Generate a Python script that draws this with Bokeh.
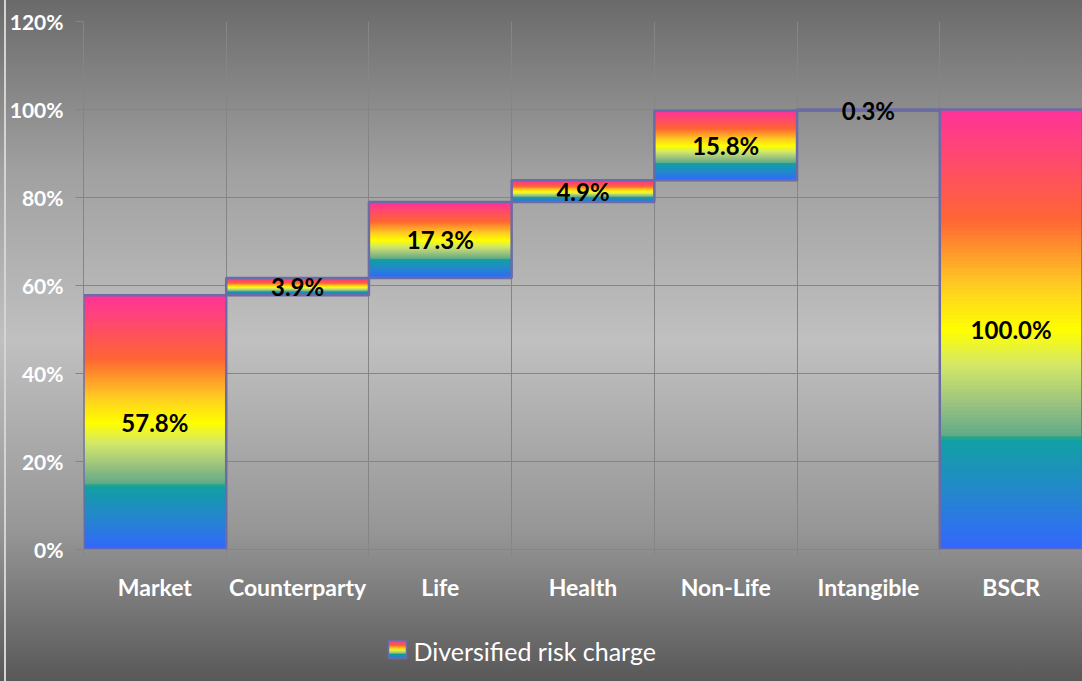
import numpy as np
from bokeh.plotting import figure
from bokeh.layouts import column
from bokeh.models import ColumnDataSource, FixedTicker, PrintfTickFormatter, Range1d
from bokeh.core.properties import value
from bokeh.embed import file_html
from bokeh.resources import INLINE

# ---------------- data ----------------
categories = ["Market", "Counterparty", "Life", "Health", "Non-Life", "Intangible", "BSCR"]
values = [57.8, 3.9, 17.3, 4.9, 15.8, 0.3, 100.0]
is_total = [False, False, False, False, False, False, True]
y_ticks = [0, 20, 40, 60, 80, 100, 120]
legend_label = "Diversified risk charge"

# rainbow gradient stops (fraction of bar height -> colour)
stop_pos = [0.0, 0.12, 0.249, 0.25, 0.262, 0.33, 0.42, 0.5, 0.6, 0.75, 0.87, 1.0]
stop_col = ["#3366ff", "#2585d0", "#12a0a4", "#00a08c", "#62ab88", "#98c280",
            "#d4e868", "#ffff00", "#ffcc22", "#ff6633", "#ff4d66", "#ff3399"]


def hex2rgb(h):
    h = h.lstrip("#")
    return np.array([int(h[i:i + 2], 16) for i in (0, 2, 4)], dtype=float)


stop_rgb = np.array([hex2rgb(c) for c in stop_col])


def grad(f):
    r = np.interp(f, stop_pos, stop_rgb[:, 0])
    g = np.interp(f, stop_pos, stop_rgb[:, 1])
    b = np.interp(f, stop_pos, stop_rgb[:, 2])
    return "#%02x%02x%02x" % (int(round(r)), int(round(g)), int(round(b)))


# waterfall bottoms
bottoms = []
run = 0.0
for v, t in zip(values, is_total):
    if t:
        bottoms.append(0.0)
    else:
        bottoms.append(run)
        run += v

centers = [i + 0.5 for i in range(len(categories))]

# gradient slices for each bar
N = 120
sx, sb, st, sc = [], [], [], []
for cx, v, b in zip(centers, values, bottoms):
    for k in range(N):
        f0, f1 = k / N, (k + 1) / N
        sx.append(cx)
        sb.append(b + v * f0)
        st.append(b + v * f1)
        sc.append(grad((f0 + f1) / 2))
slices = ColumnDataSource(dict(x=sx, bottom=sb, top=st, color=sc))

bars = ColumnDataSource(dict(
    x=centers,
    bottom=bottoms,
    top=[b + v for b, v in zip(bottoms, values)],
    mid=[b + v / 2 for b, v in zip(bottoms, values)],
    label=["%.1f%%" % v for v in values],
))

W = 1082
H_MAIN = 620
H_LEG = 61

# ---------------- main figure ----------------
p = figure(width=W, height=H_MAIN, output_backend="svg", toolbar_location=None,
           x_range=Range1d(0, len(categories)), y_range=Range1d(0, 120),
           min_border_left=83, min_border_right=0, min_border_top=21,
           min_border_bottom=H_MAIN - 549,
           background_fill_color=None, border_fill_color=None, outline_line_color=None)

GRID = "#858585"
p.ygrid.ticker = FixedTicker(ticks=y_ticks)
p.ygrid.grid_line_color = GRID
p.xgrid.ticker = FixedTicker(ticks=list(range(len(categories) + 1)))
p.xgrid.grid_line_color = GRID

# y axis
p.yaxis.ticker = FixedTicker(ticks=y_ticks)
p.yaxis.formatter = PrintfTickFormatter(format="%d%%")
p.yaxis.axis_line_color = GRID
p.yaxis.major_tick_line_color = GRID
p.yaxis.major_tick_out = 8
p.yaxis.major_tick_in = 0
p.yaxis.minor_tick_line_color = None
p.yaxis.major_label_standoff = 12
p.yaxis.major_label_text_font = "Lato"
p.yaxis.major_label_text_font_style = "bold"
p.yaxis.major_label_text_font_size = "21px"
p.yaxis.major_label_text_color = "white"

# x axis
p.xaxis.ticker = FixedTicker(ticks=centers, minor_ticks=list(range(len(categories) + 1)))
p.xaxis.major_label_overrides = {c: n for c, n in zip(centers, categories)}
p.xaxis.axis_line_color = GRID
p.xaxis.major_tick_line_color = None
p.xaxis.major_tick_out = 0
p.xaxis.major_tick_in = 0
p.xaxis.minor_tick_line_color = GRID
p.xaxis.minor_tick_out = 6
p.xaxis.minor_tick_in = 0
p.xaxis.major_label_standoff = 17
p.xaxis.major_label_text_font = "Lato"
p.xaxis.major_label_text_font_style = "bold"
p.xaxis.major_label_text_font_size = "23px"
p.xaxis.major_label_text_color = "white"

# gradient bars
p.vbar(x="x", width=1.0, bottom="bottom", top="top", source=slices,
       fill_color="color", line_color="color", line_width=1)
# bar outlines
p.vbar(x="x", width=1.0, bottom="bottom", top="top", source=bars,
       fill_color=None, line_color="#6b6ba6", line_width=2.5)
# data labels
p.text(x="x", y="mid", text="label", source=bars,
       text_align="center", text_baseline="middle",
       text_font=value("Lato"), text_font_style="bold",
       text_font_size=value("24px"), text_color="black")

# ---------------- legend strip (pixel coordinates) ----------------
leg = figure(width=W, height=H_LEG, output_backend="svg", toolbar_location=None,
             x_range=Range1d(83, W), y_range=Range1d(H_LEG, 0),
             x_axis_location=None, y_axis_location=None,
             min_border_left=83, min_border_right=0, min_border_top=0, min_border_bottom=0,
             background_fill_color=None, border_fill_color=None, outline_line_color=None)
leg.xgrid.visible = False
leg.ygrid.visible = False

sw_left, sw_right, sw_top, sw_bottom = 388, 406, 20, 38
n_sw = 18
swl, swr, swt, swb, swc = [], [], [], [], []
for k in range(n_sw):
    f0, f1 = k / n_sw, (k + 1) / n_sw
    swl.append(sw_left)
    swr.append(sw_right)
    swb.append(sw_bottom + (sw_top - sw_bottom) * f0)
    swt.append(sw_bottom + (sw_top - sw_bottom) * f1)
    swc.append(grad((f0 + f1) / 2))
leg.quad(left=swl, right=swr, top=swt, bottom=swb, fill_color=swc, line_color=swc, line_width=0.5)
leg.quad(left=[sw_left], right=[sw_right], top=[sw_top], bottom=[sw_bottom],
         fill_color=None, line_color="#6b6ba6", line_width=1.5)
leg.text(x=[413], y=[30], text=[legend_label], text_align="left", text_baseline="middle",
         text_font=value("Lato"), text_font_size=value("25px"), text_color="white")

layout = column(p, leg, spacing=0)
layout.styles = {"background": (
    "linear-gradient(to right, transparent 4px, #d4d4d4 4px, #d4d4d4 6px, transparent 6px), "
    "linear-gradient(to bottom, #6a6a6a 0%, #a0a0a0 25%, #c0c0c0 50%, #969696 78%, #585858 100%)")}

open("out.html", "w").write(file_html(layout, INLINE))
